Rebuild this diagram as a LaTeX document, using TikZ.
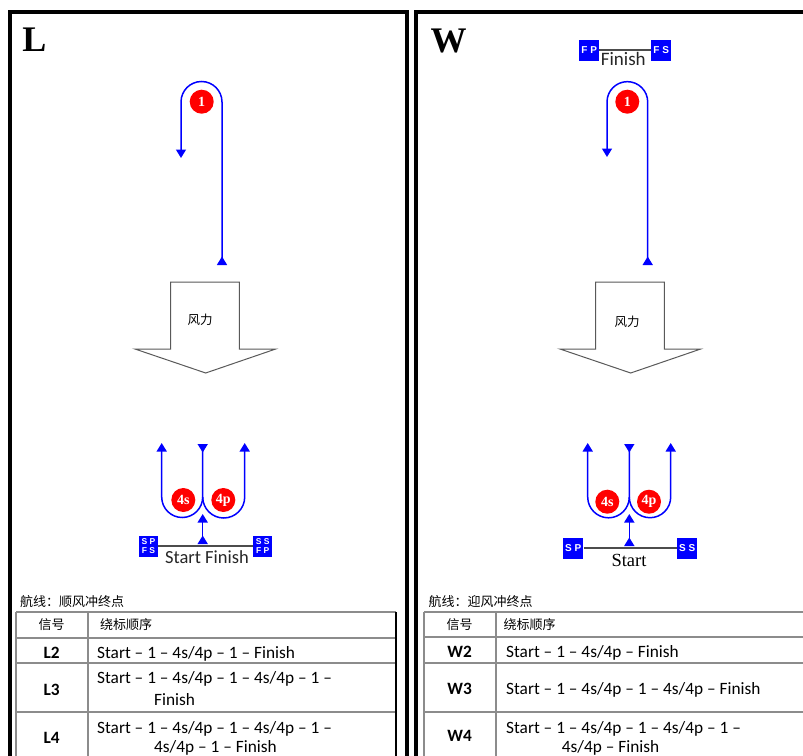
\documentclass[tikz,border=0pt]{standalone}
\usepackage{fontspec}
\setmainfont{Carlito}
\newfontfamily\cjk{Noto Sans CJK SC}
\newfontfamily\timesfont{Liberation Serif}
\newfontfamily\flagfont{Liberation Sans}
\usetikzlibrary{arrows.meta}

\begin{document}
\begin{tikzpicture}[x=1pt, y=-1pt,
	every node/.style = {inner sep=0pt},
	Tri/.tip = {Triangle[width=10pt, length=8.5pt]},
	course/.style = {draw=blue, line width=1.5pt},
	rnd/.style = {shape=circle, fill=red, text=white, minimum size=24pt,
		font=\timesfont\bfseries\fontsize{14}{14}\selectfont},
	flag/.style = {shape=rectangle, fill=blue, text=white, minimum width=19pt,
		minimum height=21pt, align=center, font=\flagfont\bfseries\fontsize{8.5}{9}\selectfont},
	wind/.style = {draw=black!65, line width=1pt, fill=white},
	panel/.style = {draw=black, line width=4pt},
	tab/.style = {draw=black!45, line width=1.2pt},
	cell/.style = {anchor=base west, font=\fontsize{17.3}{17.3}\selectfont},
	sig/.style = {anchor=base, font=\bfseries\fontsize{17.3}{17.3}\selectfont},
	head/.style = {font=\cjk\fontsize{13}{13}\selectfont}]
	\useasboundingbox (0,0) rectangle (803,755);
	\draw[panel] (9.5,760) -- (9.5,12) -- (406.5,12) -- (406.5,760);
	\draw[panel] (415.5,760) -- (415.5,12) -- (810,12);
	\node[font=\timesfont\bfseries\fontsize{36}{36}\selectfont] (ltitle) at (34.5,40) {L};
	\node[font=\timesfont\bfseries\fontsize{36}{36}\selectfont] (wtitle) at (448.7,40.5) {W};

	\draw[course, {Tri[reversed]}-Tri] (222,265) -- (222,102) arc (0:-180:20.5) -- (181,158);
	\node[rnd] (l1) at (201.7,101.7) {1};
	\draw[wind] (170.7,282) -- (239.3,282) -- (239.3,349) -- (275.7,349) -- (205.7,373)
		-- (135,349) -- (170.7,349) -- cycle;
	\node[head, font=\cjk\fontsize{12.5}{12.5}\selectfont] (lwind) at (200,320) {风力};
	\draw[course, {Tri[reversed]}-Tri] (202.7,444) -- (202.7,497) arc (0:180:20.5) -- (161.7,443);
	\draw[course, -Tri] (202.7,497) arc (180:0:21) -- (244.7,443);
	\draw[course, {Tri[reversed]}-Tri] (202.7,544) -- (202.7,514);
	\node[rnd] (l4s) at (183.3,500) {4s};
	\node[rnd] (l4p) at (223.3,500) {4p};
	\node[flag] (lsp) at (148.5,546) {S P\\F S};
	\node[flag] (lss) at (262.7,546) {S S\\F P};
	\draw[black!70, line width=1.5pt] (lsp) -- (lss);
	\node[text=black!85, font=\fontsize{18.5}{18.5}\selectfont] (lstart) at (207,557) {Start Finish};

	\node[flag, minimum width=20pt, font=\flagfont\bfseries\fontsize{10}{10}\selectfont] (wfp) at (589.2,50) {F P};
	\node[flag, minimum width=20pt, font=\flagfont\bfseries\fontsize{10}{10}\selectfont] (wfs) at (661.2,50) {F S};
	\draw[black!70, line width=1.5pt] (wfp) -- (wfs);
	\node[text=black!85, font=\fontsize{19}{19}\selectfont] (wfinish) at (623.3,58.5) {Finish};
	\draw[course, {Tri[reversed]}-Tri] (647.7,265) -- (647.7,102) arc (0:-180:20.35) -- (607,157);
	\node[rnd] (w1) at (627.3,101.7) {1};
	\draw[wind] (595.7,282) -- (664.3,282) -- (664.3,349) -- (700.7,349) -- (630.7,373)
		-- (560,349) -- (595.7,349) -- cycle;
	\node[head, font=\cjk\fontsize{12.5}{12.5}\selectfont] (wwind) at (627,322) {风力};
	\draw[course, {Tri[reversed]}-Tri] (629.3,444) -- (629.3,497) arc (0:180:20.8) -- (587.7,443);
	\draw[course, -Tri] (629.3,497) arc (180:0:20.7) -- (670.7,443);
	\draw[course, {Tri[reversed]}-Tri] (629.3,546) -- (629.3,514);
	\node[rnd] (w4s) at (607.3,501.7) {4s};
	\node[rnd] (w4p) at (649,501.7) {4p};
	\node[flag, minimum width=20pt, font=\flagfont\bfseries\fontsize{10}{10}\selectfont] (wsp) at (573.3,548) {S P};
	\node[flag, minimum width=20pt, font=\flagfont\bfseries\fontsize{10}{10}\selectfont] (wss) at (687.2,548) {S S};
	\draw[black!70, line width=1.5pt] (wsp) -- (wss);
	\node[font=\timesfont\fontsize{18.5}{18.5}\selectfont] (wstart) at (629,560) {Start};

	\node[head, anchor=west] (lroute) at (20,602) {航线：顺风冲终点};
	\draw[tab] (16,612) -- (396,612) (16,638) -- (396,638) (16,663) -- (396,663) (16,712) -- (396,712);
	\draw[tab] (16,612) -- (16,760) (88,612) -- (88,760);
	\draw[black, line width=1.2pt] (396,612) -- (396,760);
	\node[head] (lsig) at (51.7,625) {信号};
	\node[head, anchor=west] (lorder) at (100,625) {绕标顺序};
	\node[sig] (l2) at (51.7,658) {L2};
	\node[cell] (l2a) at (97,658) {Start – 1 – 4s/4p – 1 – Finish};
	\node[sig] (l3) at (51.7,695) {L3};
	\node[cell] (l3a) at (97,683) {Start – 1 – 4s/4p – 1 – 4s/4p – 1 –};
	\node[cell] (l3b) at (154,705) {Finish};
	\node[sig] (l4) at (51.7,743) {L4};
	\node[cell] (l4a) at (97,733) {Start – 1 – 4s/4p – 1 – 4s/4p – 1 –};
	\node[cell] (l4b) at (154,752) {4s/4p – 1 – Finish};

	\node[head, anchor=west] (wroute) at (428.3,602) {航线：迎风冲终点};
	\draw[tab] (424,612) -- (810,612) (424,637) -- (810,637) (424,663) -- (810,663) (424,712) -- (810,712);
	\draw[tab] (424,612) -- (424,760) (496,612) -- (496,760);
	\node[head] (wsig) at (459.7,625) {信号};
	\node[head, anchor=west] (worder) at (503.3,625) {绕标顺序};
	\node[sig] (w2) at (459.7,657) {W2};
	\node[cell] (w2a) at (506,657) {Start – 1 – 4s/4p – Finish};
	\node[sig] (w3) at (459.7,694) {W3};
	\node[cell] (w3a) at (506,694) {Start – 1 – 4s/4p – 1 – 4s/4p – Finish};
	\node[sig] (w4) at (459.7,741) {W4};
	\node[cell] (w4a) at (506,733) {Start – 1 – 4s/4p – 1 – 4s/4p – 1 –};
	\node[cell] (w4b) at (561.7,752) {4s/4p – Finish};
\end{tikzpicture}
\end{document}
